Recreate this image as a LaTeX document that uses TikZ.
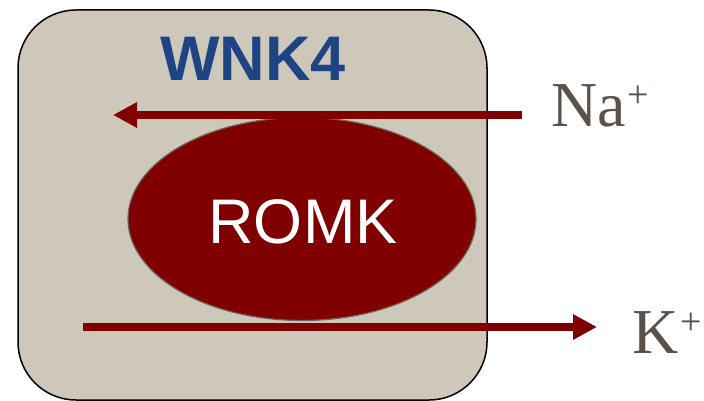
\documentclass[tikz,border=0pt]{standalone}
\usepackage{fontspec}
\setmainfont{Liberation Serif}
\setsansfont{Liberation Sans}
\usetikzlibrary{arrows.meta,shapes.geometric}
\definecolor{beige}{HTML}{CEC8BA}
\definecolor{dred}{HTML}{800000}
\definecolor{wblue}{HTML}{1F4483}
\definecolor{iongray}{HTML}{5A5248}
\definecolor{edgegray}{HTML}{6E665C}
\tikzset{
  ionarrow/.style={draw=dred,line width=8pt,-{Triangle[length=24pt,width=24pt]}},
  ionlabel/.style={text=iongray,font=\fontsize{64}{70}\selectfont,inner sep=0pt,anchor=base west},
}
\newcommand{\ionsup}{\hspace{2pt}{\fontsize{38}{38}\selectfont\raisebox{19pt}{+}}}
\begin{document}
\begin{tikzpicture}[x=1pt,y=-1pt]
\useasboundingbox (0,0) rectangle (704,401);
\node[draw=black,line width=1.5pt,fill=beige,rounded corners=58pt,
      minimum width=469pt,minimum height=390pt,inner sep=0pt] (cell) at (252.5,205) {};
\node[font=\sffamily\bfseries\fontsize{63}{70}\selectfont,text=wblue,inner sep=0pt] (wnk) at (253,59) {WNK4};
\node[ellipse,draw=edgegray,line width=1.2pt,fill=dred,minimum width=348pt,minimum height=203pt,inner sep=0pt] (romk) at (302,219) {};
\node[font=\sffamily\fontsize{63}{70}\selectfont,text=white,inner sep=0pt] (romklabel) at (303,222) {ROMK};
\coordinate (nastart) at (522,115);
\coordinate (naend) at (113,115);
\coordinate (kstart) at (83,327);
\coordinate (kend) at (597,327);
\draw[ionarrow] (nastart) -- (naend);
\draw[ionarrow] (kstart) -- (kend);
\node[ionlabel] (na) at (551,127) {Na\ionsup};
\node[ionlabel] (k) at (632,353) {K\ionsup};
\end{tikzpicture}
\end{document}
